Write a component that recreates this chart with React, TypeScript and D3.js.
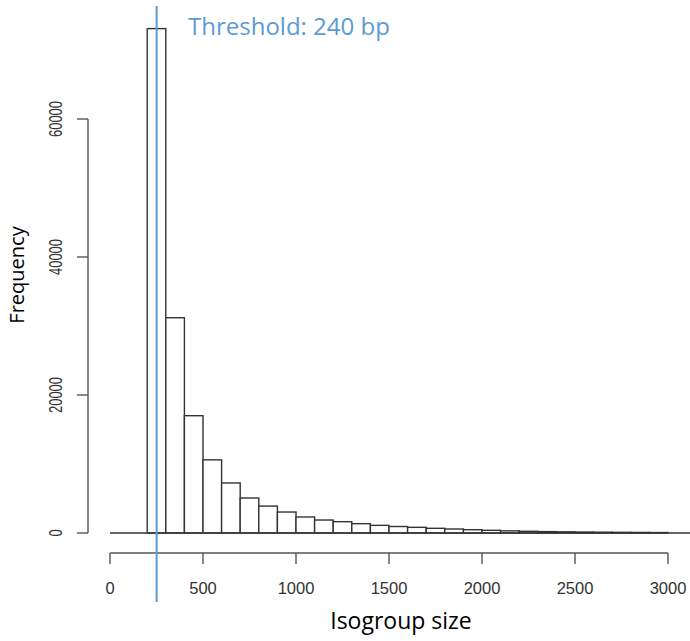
import React from 'react'
import { scaleLinear } from 'd3'

// histogram bins (lower edge, width 100 bp) and their counts
const binStarts = [200, 300, 400, 500, 600, 700, 800, 900, 1000, 1100, 1200, 1300, 1400, 1500,
  1600, 1700, 1800, 1900, 2000, 2100, 2200, 2300, 2400, 2500, 2600, 2700, 2800, 2900]
const counts = [73100, 31200, 17000, 10600, 7250, 5070, 3900, 3040, 2320, 1880, 1640, 1350, 1110, 940,
  820, 680, 580, 480, 390, 310, 250, 200, 170, 140, 115, 95, 80, 65]
const binWidth = 100

const xTicks = [0, 500, 1000, 1500, 2000, 2500, 3000]
const yTicks = [0, 20000, 40000, 60000]
const threshold = 240

const W = 690, H = 641
const blue = '#5B9BD5'
const axisCol = '#555'
const labelCol = '#333'

export default function App() {
  const x = scaleLinear().domain([0, 3000]).range([110, 668])
  const y = scaleLinear().domain([0, 60000]).range([533, 119])
  const xAxisY = 553
  const yAxisX = 88

  return (
    <svg width={W} height={H} style={{ position: 'absolute', left: 0, top: 0, background: '#fff' }}>
      <rect width={W} height={H} fill="#fff" />

      {/* bars */}
      {binStarts.map((b, i) => (
        <rect key={b}
          x={x(b)} y={y(counts[i])}
          width={x(b + binWidth) - x(b)} height={y(0) - y(counts[i])}
          fill="#fff" stroke="#333" strokeWidth={1.4} />
      ))}
      <line x1={x(0)} x2={W} y1={y(0)} y2={y(0)} stroke="#333" strokeWidth={1.4} />

      {/* y axis */}
      <line x1={yAxisX} x2={yAxisX} y1={y(0)} y2={y(60000)} stroke={axisCol} strokeWidth={1.4} />
      {yTicks.map(t => (
        <g key={t}>
          <line x1={yAxisX - 11} x2={yAxisX} y1={y(t)} y2={y(t)} stroke={axisCol} strokeWidth={1.4} />
          <text transform={`translate(62,${y(t)}) scale(1.35,1) rotate(-90)`}
            textAnchor="middle" fontFamily="Liberation Sans" fontSize={13} fill={labelCol}>{t}</text>
        </g>
      ))}

      {/* x axis */}
      <line x1={x(0)} x2={x(3000)} y1={xAxisY} y2={xAxisY} stroke={axisCol} strokeWidth={1.4} />
      {xTicks.map(t => (
        <g key={t}>
          <line x1={x(t)} x2={x(t)} y1={xAxisY} y2={xAxisY + 11} stroke={axisCol} strokeWidth={1.4} />
          <text x={x(t)} y={594} textAnchor="middle" fontFamily="Liberation Sans" fontSize={16.5} fill={labelCol}>{t}</text>
        </g>
      ))}

      {/* threshold */}
      <line x1={x(threshold) + 2} x2={x(threshold) + 2} y1={6} y2={602} stroke={blue} strokeWidth={2} />
      <text x={188} y={35} fontFamily="Open Sans" fontSize={24} fill={blue}>Threshold: 240 bp</text>

      {/* titles */}
      <text x={401} y={629} textAnchor="middle" fontFamily="Open Sans" fontSize={23} fill="#000">Isogroup size</text>
      <text transform="translate(24,275) rotate(-90)" textAnchor="middle" fontFamily="Open Sans" fontSize={20} fill="#000">Frequency</text>
    </svg>
  )
}
